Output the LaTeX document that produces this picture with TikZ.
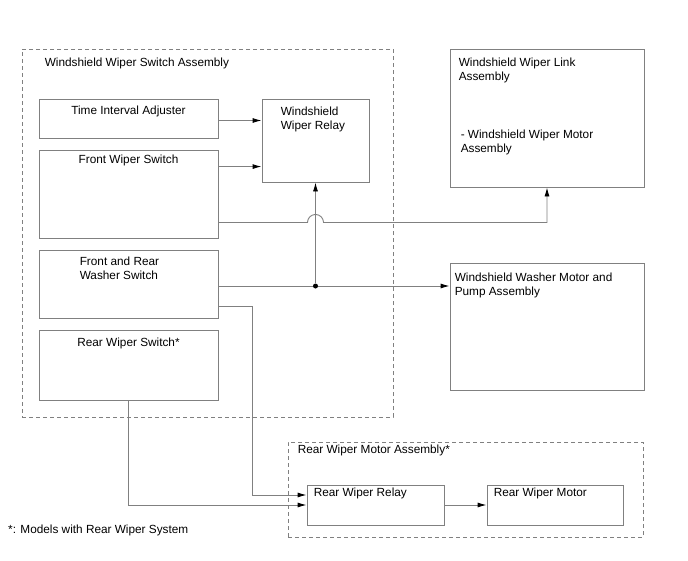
\documentclass[tikz,border=0pt]{standalone}
\usepackage{fontspec}
\setmainfont{Liberation Sans}
\usetikzlibrary{arrows.meta,positioning}
\definecolor{wgray}{RGB}{128,128,128}
\tikzset{
  w/box/.style={draw=wgray, line width=0.9pt, rectangle, inner sep=0pt},
  w/group/.style={draw=wgray, line width=0.9pt, dash pattern=on 4pt off 3pt, rectangle, inner sep=0pt},
  w/text/.style={inner sep=0pt, align=left, font=\fontsize{11.8}{14}\selectfont},
  w/link/.style={draw=wgray, line width=0.9pt, -{Latex[length=9pt,width=5pt,color=black]}},
  w/line/.style={draw=wgray, line width=0.9pt},
  w/dot/.style={circle, fill=black, inner sep=0pt, minimum size=5pt}
}

\begin{document}
\begin{tikzpicture}[x=1pt, y=-1pt, node distance=6pt]
  \useasboundingbox (0,0) rectangle (688,560);

  % groups
  \node[w/group, minimum width=371pt, minimum height=368pt] (swgrp) at (207.5,233) {};
  \node[w/group, minimum width=355pt, minimum height=95pt] (reargrp) at (465.5,489.5) {};

  % switch assembly blocks
  \node[w/box, minimum width=179pt, minimum height=39pt] (tia) at (128.5,118.5) {};
  \node[w/box, minimum width=179pt, minimum height=88pt] (fws) at (128.5,194) {};
  \node[w/box, minimum width=179pt, minimum height=68pt] (wash) at (128.5,284) {};
  \node[w/box, minimum width=179pt, minimum height=70pt] (rws) at (128.5,365) {};
  \node[w/box, minimum width=107pt, minimum height=83pt] (relay) at (315.5,140.5) {};

  % outputs
  \node[w/box, minimum width=194pt, minimum height=138pt] (link) at (547,118) {};
  \node[w/box, minimum width=194pt, minimum height=127pt] (wmotor) at (547,326.5) {};
  \node[w/box, minimum width=137pt, minimum height=40pt] (rrelay) at (375.5,505) {};
  \node[w/box, minimum width=136pt, minimum height=40pt] (rmotor) at (555,505) {};

  % labels
  \node[w/text, anchor=north west, below right=9pt and 23pt of swgrp.north west] (swgrplbl) {Windshield Wiper Switch Assembly};
  \node[w/text, anchor=north, below=7pt of tia.north] (tialbl) {Time Interval Adjuster};
  \node[w/text, anchor=north, below=5pt of fws.north] (fwslbl) {Front Wiper Switch};
  \node[w/text, below right=7pt and 41pt of wash.north west] (washlbl) {Front and Rear\\Washer Switch};
  \node[w/text, below=8pt of rws.north] (rwslbl) {Rear Wiper Switch*};
  \node[w/text, below right=8pt and 19pt of relay.north west] (relaylbl) {Windshield\\Wiper Relay};
  \node[w/text, below right=9pt and 9pt of link.north west] (linklbl) {Windshield Wiper Link\\Assembly};
  \node[w/text, below right=81pt and 11pt of link.north west] (linkmotlbl) {- Windshield Wiper Motor\\Assembly};
  \node[w/text, below right=10pt and 5pt of wmotor.north west] (wmotorlbl) {Windshield Washer Motor and\\Pump Assembly};
  \node[w/text, below right=3pt and 10pt of reargrp.north west] (reargrplbl) {Rear Wiper Motor Assembly*};
  \node[w/text, below right=3pt and 7pt of rrelay.north west] (rrelaylbl) {Rear Wiper Relay};
  \node[w/text, below right=3pt and 7pt of rmotor.north west] (rmotorlbl) {Rear Wiper Motor};
  \node[w/text, anchor=north west] (note) at (8,525) {*: Models with Rear Wiper System};

  % connections
  \draw[w/link] ([yshift=-2pt]tia.east) -- ([yshift=-2pt]tia.east -| relay.west);
  \draw[w/link] ([yshift=-17pt]fws.north east) -- ([yshift=-17pt]fws.north east -| relay.west);
  \draw[w/link] ([yshift=16pt]fws.south east) coordinate (fwout)
    -- ([xshift=-8pt]fwout -| relay.south) arc[start angle=180, end angle=0, radius=8pt]
    -| (link.south);
  \draw[w/link] ([yshift=-2pt]wash.east) coordinate (washout) -- (washout -| wmotor.west);
  \node[w/dot] (jn) at (washout -| relay.south) {};
  \draw[w/link] (jn) -- (relay.south);
  \draw[w/link] ([yshift=-22pt]wash.east) -- ++(34pt,0) |- ([yshift=10pt]rrelay.west);
  \draw[w/link] (rws.south) |- (rrelay.west);
  \draw[w/link] (rrelay) -- (rmotor);
\end{tikzpicture}
\end{document}
